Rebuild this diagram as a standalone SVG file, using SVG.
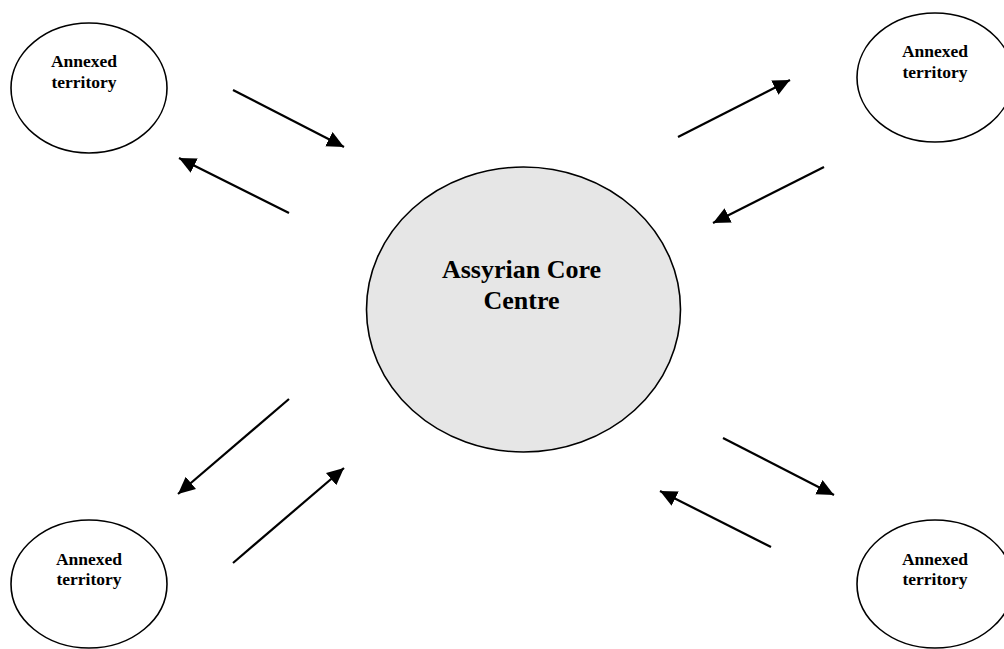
<svg xmlns="http://www.w3.org/2000/svg" width="1004" height="649" viewBox="0 0 1004 649">
<style>
.node{fill:#ffffff;stroke:#000;stroke-width:1.6}
.core{fill:#e6e6e6;stroke:#000;stroke-width:1.6}
.lbl{font-family:"Liberation Serif","Times New Roman",serif;font-weight:bold;font-size:17.5px;fill:#000;text-anchor:middle}
.big{font-family:"Liberation Serif","Times New Roman",serif;font-weight:bold;font-size:26px;fill:#000;text-anchor:middle}
.arr{stroke:#000;stroke-width:2.2;fill:none;marker-end:url(#ah)}
</style>
<defs>
<marker id="ah" markerUnits="userSpaceOnUse" markerWidth="20" markerHeight="18" refX="17" refY="8" orient="auto">
<path d="M0,0 L17,8 L0,16 Z" fill="#000"/>
</marker>
</defs>
<rect width="1004" height="649" fill="#ffffff"/>
<g id="core">
<ellipse class="core" cx="523.5" cy="309.5" rx="157" ry="142.5"/>
<text class="big" x="521.5" y="278">Assyrian Core</text>
<text class="big" x="521.5" y="309">Centre</text>
</g>
<g id="territory-tl">
<ellipse class="node" cx="89" cy="88" rx="78" ry="65"/>
<text class="lbl" x="84" y="67">Annexed</text>
<text class="lbl" x="84" y="88">territory</text>
</g>
<g id="territory-tr">
<ellipse class="node" cx="935" cy="77.5" rx="78" ry="64.5"/>
<text class="lbl" x="935" y="57">Annexed</text>
<text class="lbl" x="935" y="78">territory</text>
</g>
<g id="territory-bl">
<ellipse class="node" cx="89" cy="584" rx="78" ry="64"/>
<text class="lbl" x="89" y="565">Annexed</text>
<text class="lbl" x="89" y="585">territory</text>
</g>
<g id="territory-br">
<ellipse class="node" cx="935" cy="584" rx="78" ry="64"/>
<text class="lbl" x="935" y="565">Annexed</text>
<text class="lbl" x="935" y="585">territory</text>
</g>
<g id="connectors">
<line class="arr" x1="233" y1="90" x2="344" y2="147"/>
<line class="arr" x1="289" y1="213" x2="179" y2="158"/>
<line class="arr" x1="678" y1="137" x2="790" y2="80"/>
<line class="arr" x1="824" y1="167" x2="713" y2="223"/>
<line class="arr" x1="289" y1="399" x2="178" y2="494"/>
<line class="arr" x1="233" y1="563" x2="344" y2="468"/>
<line class="arr" x1="723" y1="438" x2="834" y2="495"/>
<line class="arr" x1="771" y1="547" x2="660" y2="491"/>
</g>
</svg>
